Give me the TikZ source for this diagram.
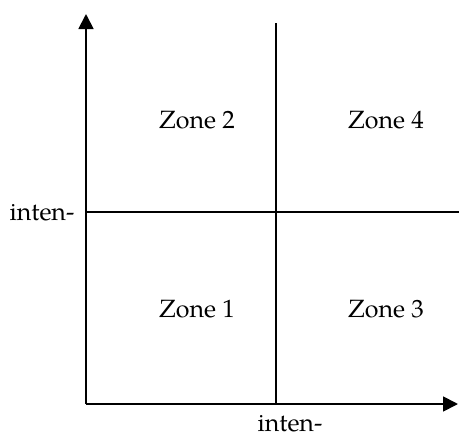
\documentclass[tikz,border=0pt]{standalone}
\usepackage{fontspec}
\setmainfont{TeX Gyre Pagella}
\usetikzlibrary{arrows.meta}
\tikzset{
  ax/.style={line width=1.8pt,-{Triangle[length=15pt,width=15pt]}},
  divider/.style={line width=1.8pt},
  zone/.style={font=\fontsize{25}{30}\selectfont, inner sep=0pt},
  lab/.style={font=\fontsize{25}{30}\selectfont, inner sep=0pt}
}
\begin{document}
\begin{tikzpicture}[x=1pt,y=-1pt]
\useasboundingbox (0,0) rectangle (459,437);
\coordinate (o) at (86,404);
\coordinate (ytop) at (86,14);
\coordinate (xend) at (458,404);
\coordinate (vtop) at (276,23);
\coordinate (vbot) at (276,404);
\coordinate (hl) at (86,212);
\coordinate (hr) at (459,212);
\draw[divider] (vtop) -- (vbot);
\draw[divider] (hl) -- (hr);
\draw[ax] (o) -- (ytop);
\draw[ax] (o) -- (xend);
\node[zone] (z2) at (197,120) {Zone 2};
\node[zone] (z4) at (386,120) {Zone 4};
\node[zone] (z1) at (197,309) {Zone 1};
\node[zone] (z3) at (386,309) {Zone 3};
\node[lab] (ly) at (42,213) {inten-};
\node[lab] (lx) at (290,424) {inten-};
\end{tikzpicture}
\end{document}
